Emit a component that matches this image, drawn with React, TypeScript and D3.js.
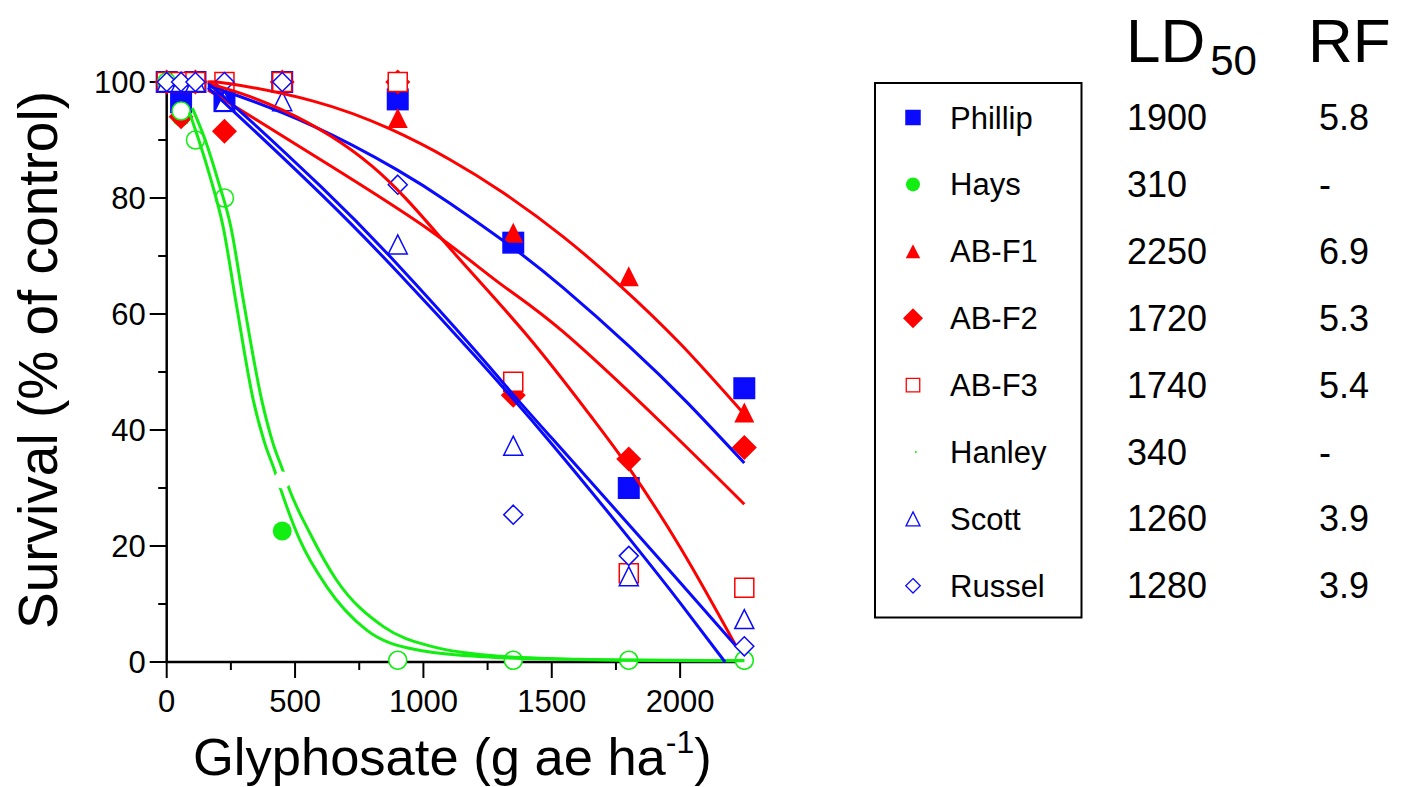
import React, { useEffect } from "react";
import * as d3 from "d3";

// ---------- data ----------
const doses = [0, 56, 112, 225, 450, 900, 1350, 1800, 2250];

const phillip = [100, 96.5, 100, 96.7, 100, 97, 72.3, 30, 47.2];
const hays = [100, 94, null, null, 22.6, 0.3, 0.3, 0.3, 0.3];
const abF1 = [100, 100, 100, 100, 100, 93.8, 74, 66.5, 43];
const abF2 = [100, 94, 100, 91.5, 100, 100, 46, 35, 37];
const abF3 = [100, 100, 100, 100, 100, 100, 48.3, 15.3, 12.8];
const hanley = [100, 95, 90, 80, null, 0.3, 0.3, 0.3, 0.3];
const scott = [100, 100, 100, 96.7, 96.7, 72, 37.3, 14.8, 7.4];
const russel = [100, 100, 100, 100, 100, 82.3, 25.4, 18.3, 2.7];

// white gap in the green fits (hidden marker)
const hanleyGap: [number, number][] = [[450, 31.4]];

// fitted curves as [dose, survival]
const phillipFit: [number, number][] = [[160, 99.3], [247, 98.1], [571, 92.4], [896, 84.9], [1100, 79.2], [1337, 71.8], [1545, 64.5], [1805, 54.3], [2026, 44.8], [2250, 34.3]];
const abF1Fit: [number, number][] = [[160, 100], [247, 99.7], [571, 96.7], [870, 91.9], [1104, 86.6], [1311, 80.9], [1545, 73.3], [1766, 64.9], [2000, 54.9], [2250, 42.7]];
const abF2Fit: [number, number][] = [[160, 98.6], [247, 96.3], [636, 85.6], [1026, 74.4], [1300, 65.2], [1545, 56.9], [1935, 40.9], [2250, 27.2]];
const abF3Fit: [number, number][] = [[160, 99.8], [450, 95.2], [800, 85.5], [1100, 71.5], [1400, 56.5], [1650, 42.5], [1800, 33.5], [2000, 19.8], [2215, 3]];
const haysFit: [number, number][] = [[88, 94.8], [125, 90], [170, 83.5], [220, 75], [270, 62], [337, 45.2], [380, 38], [422, 32.8], [441, 30.2], [519, 21], [623, 13], [779, 5.5], [974, 2.1], [1233, 0.9], [1493, 0.5], [1800, 0.3], [2250, 0.2]];
const hanleyFit: [number, number][] = [[100, 95.5], [150, 90], [200, 83], [250, 75], [300, 62], [370, 45.2], [412, 38], [454, 32.8], [474, 30.2], [558, 22.2], [662, 14.1], [844, 6.1], [1039, 2.6], [1298, 1.0], [1493, 0.6], [1800, 0.35], [2250, 0.25]];
const scottFit: [number, number][] = [[160, 99], [247, 95.5], [600, 80.7], [900, 67.2], [1200, 52.8], [1500, 37.6], [1800, 21.4], [2000, 10.2], [2175, 0]];
const russelFit: [number, number][] = [[160, 99.6], [247, 96.5], [600, 82.0], [900, 68.5], [1200, 53.8], [1350, 46.1], [1500, 38.6], [1800, 23.7], [2000, 13.7], [2215, 2.9]];

const seriesNames = ["Phillip", "Hays", "AB-F1", "AB-F2", "AB-F3", "Hanley", "Scott", "Russel"];
const ld50Values = ["1900", "310", "2250", "1720", "1740", "340", "1260", "1280"];
const rfValues = ["5.8", "-", "6.9", "5.3", "5.4", "-", "3.9", "3.9"];

const xTicks = [0, 500, 1000, 1500, 2000];
const xMinorTicks = [250, 750, 1250, 1750, 2250];
const yTicks = [0, 20, 40, 60, 80, 100];
const yMinorTicks = [10, 30, 50, 70, 90];

// ---------- styles ----------
const BLUE = "#0a0aff";
const RED = "#ff0000";
const GREEN = "#12ee12";
const FONT = "'Liberation Sans', Arial, Helvetica, sans-serif";

type Mk = { shape: string; w: number; h: number; fill: string; stroke: string; sw: number };

const plotMarks: Mk[] = [
  { shape: "square", w: 22, h: 22, fill: BLUE, stroke: "none", sw: 0 },
  { shape: "circle", w: 19, h: 19, fill: GREEN, stroke: "none", sw: 0 },
  { shape: "triangle", w: 20, h: 20, fill: RED, stroke: "none", sw: 0 },
  { shape: "diamond", w: 25, h: 25, fill: RED, stroke: "none", sw: 0 },
  { shape: "square", w: 19, h: 19, fill: "#ffffff", stroke: RED, sw: 1.5 },
  { shape: "circle", w: 18, h: 18, fill: "#ffffff", stroke: GREEN, sw: 1.5 },
  { shape: "triangle", w: 19, h: 19, fill: "#ffffff", stroke: BLUE, sw: 1.5 },
  { shape: "diamond", w: 19, h: 19, fill: "#ffffff", stroke: BLUE, sw: 1.5 },
];
const legendMarks: Mk[] = [
  { shape: "square", w: 15.5, h: 15.5, fill: BLUE, stroke: "none", sw: 0 },
  { shape: "circle", w: 14, h: 14, fill: GREEN, stroke: "none", sw: 0 },
  { shape: "triangle", w: 14.5, h: 14, fill: RED, stroke: "none", sw: 0 },
  { shape: "diamond", w: 20, h: 20, fill: RED, stroke: "none", sw: 0 },
  { shape: "square", w: 13.5, h: 13.5, fill: "#ffffff", stroke: RED, sw: 1.3 },
  { shape: "circle", w: 2, h: 2, fill: GREEN, stroke: "none", sw: 0 },
  { shape: "triangle", w: 14, h: 14, fill: "#ffffff", stroke: BLUE, sw: 1.3 },
  { shape: "diamond", w: 14.5, h: 14.5, fill: "#ffffff", stroke: BLUE, sw: 1.3 },
];

const seriesValues = [phillip, hays, abF1, abF2, abF3, hanley, scott, russel];
const fits: { data: [number, number][]; color: string; smooth: boolean }[] = [
  { data: phillipFit, color: BLUE, smooth: true },
  { data: haysFit, color: GREEN, smooth: false },
  { data: abF1Fit, color: RED, smooth: true },
  { data: abF2Fit, color: RED, smooth: true },
  { data: abF3Fit, color: RED, smooth: true },
  { data: hanleyFit, color: GREEN, smooth: false },
  { data: scottFit, color: BLUE, smooth: true },
  { data: russelFit, color: BLUE, smooth: true },
];

function Marker({ m, cx, cy }: { m: Mk; cx: number; cy: number }) {
  const common = { fill: m.fill, stroke: m.stroke, strokeWidth: m.sw };
  if (m.shape === "circle") return <circle cx={cx} cy={cy} r={m.w / 2} {...common} />;
  let d = "";
  const hw = m.w / 2, hh = m.h / 2;
  if (m.shape === "square") d = `M${-hw},${-hh}H${hw}V${hh}H${-hw}Z`;
  else if (m.shape === "diamond") d = `M0,${-hh}L${hw},0L0,${hh}L${-hw},0Z`;
  else if (m.shape === "triangle") d = `M0,${-hh}L${hw},${hh}L${-hw},${hh}Z`;
  return <path d={d} transform={`translate(${cx},${cy})`} {...common} />;
}

export default function App() {
  useEffect(() => {
    document.body.style.margin = "0";
    document.body.style.overflow = "hidden";
  }, []);

  const x = d3.scaleLinear().domain([0, 2250]).range([166.7, 744.3]);
  const y = d3.scaleLinear().domain([0, 100]).range([662, 82]);
  const smoothLine = d3
    .line<[number, number]>()
    .x((d) => x(d[0]))
    .y((d) => y(d[1]))
    .curve(d3.curveNatural);
  const monoLine = d3
    .line<[number, number]>()
    .x((d) => x(d[0]))
    .y((d) => y(d[1]))
    .curve(d3.curveMonotoneX);

  const rowY = (i: number) => 117.5 + 66.9 * i;

  return (
    <svg width={1403} height={787} style={{ position: "absolute", left: 0, top: 0, background: "#fff" }} fontFamily={FONT}>
      <rect x={0} y={0} width={1403} height={787} fill="#fff" />
      {/* axes */}
      <g stroke="#000">
        <line x1={x(0)} x2={x(0)} y1={y(0) + 1} y2={y(100)} strokeWidth={2.5} />
        <line x1={x(0) - 1} x2={x(2262)} y1={y(0)} y2={y(0)} strokeWidth={2.5} />
        {yTicks.map((t) => (
          <line key={"yt" + t} x1={x(0) - 17} x2={x(0)} y1={y(t)} y2={y(t)} strokeWidth={2} />
        ))}
        {yMinorTicks.map((t) => (
          <line key={"ym" + t} x1={x(0) - 8.5} x2={x(0)} y1={y(t)} y2={y(t)} strokeWidth={2} />
        ))}
        {xTicks.map((t) => (
          <line key={"xt" + t} x1={x(t)} x2={x(t)} y1={y(0)} y2={y(0) + 16} strokeWidth={2} />
        ))}
        {xMinorTicks.map((t) => (
          <line key={"xm" + t} x1={x(t)} x2={x(t)} y1={y(0)} y2={y(0) + 8} strokeWidth={2} />
        ))}
      </g>
      <g fontSize={31} fill="#000">
        {yTicks.map((t) => (
          <text key={"yl" + t} x={x(0) - 21} y={y(t)} dy="0.36em" textAnchor="end">
            {t}
          </text>
        ))}
        {xTicks.map((t) => (
          <text key={"xl" + t} x={x(t)} y={712} textAnchor="middle">
            {t}
          </text>
        ))}
      </g>
      <text x={193} y={775} fontSize={52.5} fill="#000">
        Glyphosate (g ae ha
        <tspan fontSize={32} dy={-22}>-1</tspan>
        <tspan fontSize={52.5} dy={22}>)</tspan>
      </text>
      <text transform="translate(57,360) rotate(-90)" textAnchor="middle" fontSize={55} fill="#000">
        Survival (% of control)
      </text>

      {/* markers */}
      {seriesValues.map((vals, si) => (
        <g key={"s" + si}>
          {vals.map((v, i) =>
            v === null ? null : <Marker key={i} m={plotMarks[si]} cx={x(doses[i])} cy={y(v as number)} />
          )}
        </g>
      ))}

      {/* fitted curves */}
      {fits.map((f, i) => (
        <path
          key={"f" + i}
          d={(f.smooth ? smoothLine(f.data) : monoLine(f.data)) || ""}
          fill="none"
          stroke={f.color}
          strokeWidth={3}
        />
      ))}
      {hanleyGap.map((p, i) => (
        <circle key={"g" + i} cx={x(p[0])} cy={y(p[1])} r={8.5} fill="#fff" />
      ))}

      {/* legend */}
      <rect x={875} y={83} width={206.5} height={534.5} fill="none" stroke="#000" strokeWidth={2} />
      {seriesNames.map((n, i) => (
        <g key={"l" + i}>
          <Marker m={legendMarks[i]} cx={i === 5 ? 915.8 : 913} cy={rowY(i)} />
          <text x={950} y={rowY(i) + 11} fontSize={31} fill="#000">
            {n}
          </text>
          <text x={1127} y={rowY(i) + 12.5} fontSize={36} fill="#000">
            {ld50Values[i]}
          </text>
          <text x={1319} y={rowY(i) + 12.5} fontSize={36} fill="#000">
            {rfValues[i]}
          </text>
        </g>
      ))}
      <text x={1126} y={62} fontSize={62} fill="#000">
        LD
        <tspan fontSize={42} dx={5} dy={13}>50</tspan>
      </text>
      <text x={1308} y={62} fontSize={62} fill="#000">
        RF
      </text>
    </svg>
  );
}
